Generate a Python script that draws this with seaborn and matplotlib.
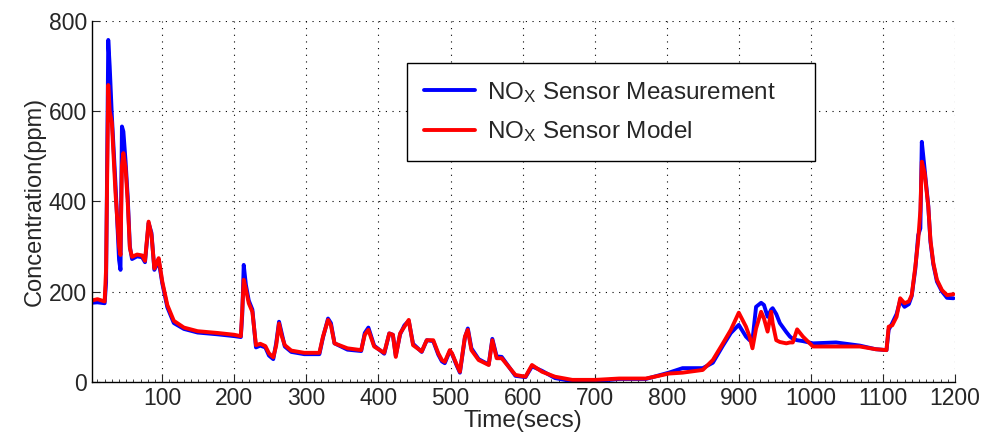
import numpy as np
import pandas as pd
import matplotlib
matplotlib.use("Agg")
import matplotlib.pyplot as plt
import seaborn as sns
from matplotlib.ticker import MultipleLocator

# time axis (secs)
time_s = [2, 10, 20, 22, 25, 27, 30, 35, 40, 42, 44, 46, 49, 52, 55, 58, 65, 72, 76, 81,
          85, 89, 92, 95, 100, 107, 116, 130, 149, 177, 200, 209, 211, 213, 216, 220, 225, 230, 236, 243,
          248, 254, 258, 262, 266, 270, 279, 297, 318, 323, 330, 334, 339, 357, 376, 381, 386, 394, 408, 415,
          420, 424, 430, 436, 442, 448, 460, 467, 476, 483, 488, 492, 499, 502, 508, 513, 520, 524, 529, 539,
          553, 558, 564, 571, 590, 604, 613, 627, 645, 669, 701, 734, 771, 789, 803, 822, 850, 864, 878, 889,
          900, 910, 915, 919, 924, 931, 935, 940, 945, 947, 952, 957, 966, 971, 975, 981, 989, 1003, 1035, 1068,
          1090, 1105, 1108, 1113, 1119, 1124, 1130, 1136, 1140, 1145, 1149, 1152, 1154, 1158, 1163, 1166, 1170, 1175, 1182, 1189,
          1198]

# sensor model (red)
model = [180, 183, 178, 250, 658, 600, 575, 420, 300, 281, 480, 507, 474, 399, 296, 277, 282, 280, 268, 355,
         325, 251, 262, 274, 222, 170, 135, 120, 112, 108, 104, 101, 160, 226, 205, 174, 155, 81, 84, 79,
         63, 54, 80, 129, 100, 81, 69, 64, 64, 100, 137, 125, 85, 74, 70, 104, 115, 78, 64, 107,
         104, 55, 107, 122, 137, 81, 67, 92, 92, 63, 48, 44, 70, 63, 40, 22, 100, 115, 70, 48,
         37, 92, 52, 52, 15, 11, 37, 22, 11, 4, 4, 7, 7, 13, 18, 20, 26, 48, 85, 115,
         153, 122, 100, 74, 118, 155, 140, 111, 155, 130, 92, 88, 85, 87, 87, 116, 100, 78, 78, 78,
         72, 70, 122, 125, 144, 185, 174, 178, 192, 255, 314, 380, 488, 462, 388, 314, 263, 226, 203, 192,
         194]

# sensor measurement (blue)
measured = [175, 176, 174, 220, 758, 700, 590, 440, 270, 248, 566, 555, 490, 410, 300, 272, 278, 276, 265, 352,
            330, 248, 258, 268, 218, 165, 130, 117, 109, 105, 101, 99, 150, 259, 215, 180, 160, 76, 80, 76,
            58, 50, 85, 133, 105, 78, 66, 61, 61, 98, 140, 130, 85, 71, 68, 108, 120, 80, 62, 107,
            104, 58, 105, 125, 135, 84, 66, 92, 90, 60, 45, 41, 68, 62, 38, 20, 98, 118, 74, 50,
            38, 95, 56, 55, 13, 10, 34, 24, 8, 1, 1, 6, 6, 14, 20, 30, 30, 42, 80, 108,
            126, 100, 92, 92, 166, 175, 170, 144, 160, 163, 150, 130, 110, 100, 95, 92, 90, 85, 87, 80,
            72, 70, 115, 130, 150, 180, 166, 172, 190, 250, 325, 340, 532, 470, 390, 310, 260, 222, 200, 186,
            185]

df = pd.DataFrame({"t": time_s, "meas": measured, "model": model})

sns.set_style("ticks")
plt.rcParams["font.family"] = ["Liberation Sans", "DejaVu Sans"]
plt.rcParams["mathtext.fontset"] = "custom"
plt.rcParams["mathtext.rm"] = "Liberation Sans"
plt.rcParams["mathtext.it"] = "Liberation Sans"

fig = plt.figure(figsize=(9.9, 4.45), dpi=100)
ax = fig.add_axes([0.0926, 0.1423, 0.872, 0.8105])

sns.lineplot(data=df, x="t", y="meas", color="#0000ff", lw=2.8, ax=ax,
             label=r"NO$_\mathrm{X}$ Sensor Measurement")
sns.lineplot(data=df, x="t", y="model", color="#ff0000", lw=2.8, ax=ax,
             label=r"NO$_\mathrm{X}$ Sensor Model")

ax.set_xlim(2, 1200)
ax.set_ylim(0, 800)
ax.set_xticks(np.arange(100, 1201, 100))
ax.set_yticks(np.arange(0, 801, 200))
ax.xaxis.set_minor_locator(MultipleLocator(10))
ax.tick_params(axis="both", which="major", direction="in", length=6, width=0.8,
               labelsize=16.5, top=False, right=False)
ax.tick_params(axis="x", which="minor", direction="in", length=2.5, width=0.6)
ax.grid(True, which="major", color="black", linestyle=(0, (1, 5)), linewidth=0.8)
sns.despine(ax=ax)
for s in ["left", "bottom"]:
    ax.spines[s].set_linewidth(1.0)
    ax.spines[s].set_color("black")

ax.set_xlabel("Time(secs)", fontsize=17.5, labelpad=0)
ax.set_ylabel("Concentration(ppm)", fontsize=17, labelpad=2)

# legend box spans a fixed width like the original
leg = ax.legend(loc="upper left", bbox_to_anchor=(0.365, 0.62, 0.473, 0.2636), mode="expand",
                fontsize=17.5, frameon=True, fancybox=False, framealpha=1, edgecolor="black",
                handlelength=2.1, handletextpad=0.5, labelspacing=0.6,
                borderpad=0.7, borderaxespad=0)
leg.get_frame().set_linewidth(1.0)

fig.savefig("out.png", dpi=100)
